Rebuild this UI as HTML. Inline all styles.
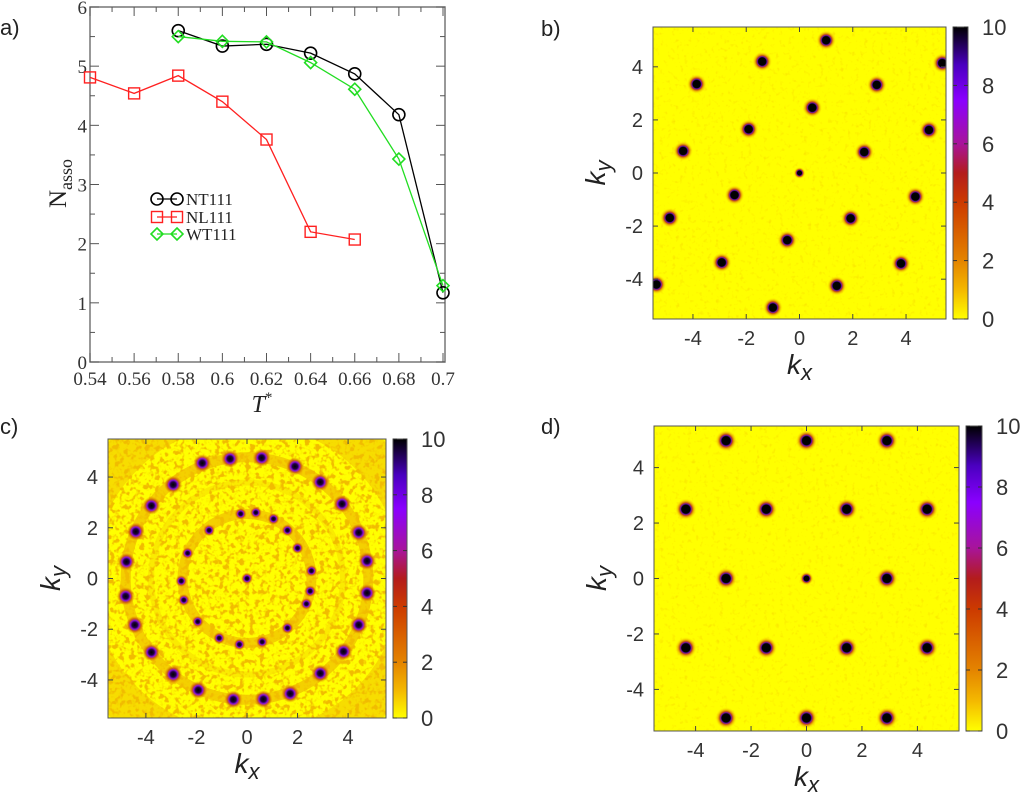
<!DOCTYPE html>
<html><head><meta charset="utf-8">
<style>
html,body{margin:0;padding:0;background:#fff;}
svg{display:block;font-family:"Liberation Sans",sans-serif;}
.ser{font-family:"Liberation Serif",serif;}
</style></head>
<body>
<svg id="fig" width="1024" height="793" viewBox="0 0 1024 793" xmlns="http://www.w3.org/2000/svg">
<defs>
<linearGradient id="cbar" x1="0" y1="1" x2="0" y2="0">
<stop offset="0" stop-color="#ffff00"/>
<stop offset="0.1" stop-color="#f4b800"/>
<stop offset="0.2" stop-color="#e48400"/>
<stop offset="0.4" stop-color="#cc3a00"/>
<stop offset="0.5" stop-color="#b31c1c"/>
<stop offset="0.6" stop-color="#a8149a"/>
<stop offset="0.75" stop-color="#8a00ff"/>
<stop offset="0.87" stop-color="#4a00c0"/>
<stop offset="1" stop-color="#000000"/>
</linearGradient>
<radialGradient id="spot">
<stop offset="0" stop-color="#000"/>
<stop offset="0.38" stop-color="#000"/>
<stop offset="0.48" stop-color="#6a10b0"/>
<stop offset="0.58" stop-color="#b02020" stop-opacity="0.8"/>
<stop offset="0.75" stop-color="#e08000" stop-opacity="0.45"/>
<stop offset="1" stop-color="#ffff00" stop-opacity="0"/>
</radialGradient>
<radialGradient id="spotc">
<stop offset="0" stop-color="#000"/>
<stop offset="0.3" stop-color="#200040"/>
<stop offset="0.5" stop-color="#8a10e0"/>
<stop offset="0.7" stop-color="#c04010" stop-opacity="0.7"/>
<stop offset="1" stop-color="#e08000" stop-opacity="0"/>
</radialGradient>
<filter id="speck" x="0" y="0" width="100%" height="100%">
<feTurbulence type="fractalNoise" baseFrequency="0.2" numOctaves="2" seed="4" result="n"/>
<feColorMatrix in="n" type="matrix" values="0 0 0 0 0.88  0 0 0 0 0.5  0 0 0 0 0  0 0 0 -6 3.0" result="c"/>
<feComposite in="c" in2="SourceGraphic" operator="in"/>
</filter>
<filter id="speckLight" x="0" y="0" width="100%" height="100%">
<feTurbulence type="fractalNoise" baseFrequency="0.25" numOctaves="2" seed="9" result="n"/>
<feColorMatrix in="n" type="matrix" values="0 0 0 0 0.95  0 0 0 0 0.8  0 0 0 0 0  0 0 0 -3 1.3" result="c"/>
<feComposite in="c" in2="SourceGraphic" operator="in"/>
</filter>
</defs>
<g id="layer"></g>
</svg>
<script>
// ---------- Panel a data ----------
const tValues = [0.54,0.56,0.58,0.60,0.62,0.64,0.66,0.68,0.70];
const ntT = [0.58,0.60,0.62,0.64,0.66,0.68,0.70];
const ntN = [5.60,5.34,5.37,5.22,4.87,4.18,1.17];
const nlT = [0.54,0.56,0.58,0.60,0.62,0.64,0.66];
const nlN = [4.81,4.54,4.84,4.40,3.76,2.20,2.07];
const wtT = [0.58,0.60,0.62,0.64,0.66,0.68,0.70];
const wtN = [5.50,5.42,5.41,5.06,4.61,3.43,1.29];
const xTickLabels = ["0.54","0.56","0.58","0.6","0.62","0.64","0.66","0.68","0.7"];
const yTickValues = [0,1,2,3,4,5,6];
// ---------- Heatmap data (peak positions in k units) ----------
const kTicks = [-4,-2,0,2,4];
const cbTicks = [0,2,4,6,8,10];
const bPeakX = [1.0,-1.4,5.36,-3.86,2.9,0.48,-1.91,4.86,-4.37,2.43,0,-2.44,4.35,-4.87,1.92,-0.46,-2.92,3.81,-5.37,1.40,-1.0];
const bPeakY = [5.0,4.2,4.14,3.35,3.32,2.46,1.65,1.62,0.83,0.79,0,-0.83,-0.89,-1.69,-1.71,-2.53,-3.37,-3.41,-4.2,-4.25,-5.07];
const dPeakX = [-2.9,0,2.9,-4.35,-1.45,1.45,4.35,-2.9,0,2.9,-4.35,-1.45,1.45,4.35,-2.9,0,2.9];
const dPeakY = [4.97,4.97,4.97,2.5,2.5,2.5,2.5,0,0,0,-2.5,-2.5,-2.5,-2.5,-5.03,-5.03,-5.03];
const cOuterX = [-1.77,-0.67,0.58,1.9,2.9,3.76,4.42,4.75,4.75,4.42,3.82,2.9,1.71,0.65,-0.54,-1.93,-2.92,-3.78,-4.44,-4.8,-4.77,-4.4,-3.78,-2.92];
const cOuterY = [4.55,4.72,4.76,4.42,3.8,2.94,1.81,0.69,-0.57,-1.83,-2.88,-3.74,-4.54,-4.76,-4.77,-4.4,-3.78,-2.91,-1.83,-0.7,0.66,1.85,2.87,3.7];
const cInnerX = [-0.25,0.35,1.05,1.6,2.0,2.55,2.5,2.35,1.6,0.6,-0.3,-1.1,-1.95,-2.5,-2.6,-2.35,-1.5,0];
const cInnerY = [2.55,2.6,2.35,1.9,1.2,0.3,-0.5,-1.0,-1.95,-2.5,-2.6,-2.35,-1.7,-0.85,-0.1,1.0,1.9,0];
const cRings = [2.55,3.8,4.8,6.9];

const NS="http://www.w3.org/2000/svg";
const root=document.getElementById('layer');
function mk(tag,attrs,parent){const e=document.createElementNS(NS,tag);for(const k in attrs)e.setAttribute(k,attrs[k]);(parent||root).appendChild(e);return e;}
function txt(s,attrs,parent){const e=mk('text',attrs,parent);e.textContent=s;return e;}

// ---------- Panel a ----------
(function(){
  const g=mk('g',{});
  
  
  const X0=90,X1=443,Y0=362,Y1=7;
  const sx=t=>X0+(t-0.54)/(0.70-0.54)*(X1-X0);
  const sy=v=>Y0-v/6*(Y0-Y1);
  const fr=mk('rect',{x:X0,y:Y1,width:X1-X0+2,height:Y0-Y1,fill:'none',stroke:'#777','stroke-width':1.5},g);
  
  
  for(let i=0;i<=16;i++){const t=0.54+i*0.01,x=sx(t),L=i%2===0?9:5;
    mk('line',{x1:x,y1:Y0,x2:x,y2:Y0-L,stroke:'#555','stroke-width':1},g);
    mk('line',{x1:x,y1:Y1,x2:x,y2:Y1+L,stroke:'#555','stroke-width':1},g);}
  for(let i=0;i<=12;i++){const v=i*0.5,y=sy(v),L=i%2===0?9:5;
    mk('line',{x1:X0,y1:y,x2:X0+L,y2:y,stroke:'#555','stroke-width':1},g);
    mk('line',{x1:X1+2,y1:y,x2:X1+2-L,y2:y,stroke:'#555','stroke-width':1},g);}
  tValues.forEach((t,i)=>{const e=txt(xTickLabels[i],{x:sx(t),y:Y0+23,'text-anchor':'middle','font-size':19,class:'ser',fill:'#333'},g);
    });
  yTickValues.forEach(v=>{const e=txt(String(v),{x:X0-3,y:sy(v)+7,'text-anchor':'end','font-size':19,class:'ser',fill:'#333'},g);
    });
  const xt=txt('',{x:262,y:412,'text-anchor':'middle','font-size':24,class:'ser',fill:'#222','font-style':'italic'},g);
  xt.innerHTML='T<tspan dy="-10" font-size="15" font-style="normal">*</tspan>';
  
  const yt=txt('',{x:0,y:0,transform:'translate(66,208) rotate(-90)','font-size':25,class:'ser',fill:'#222'},g);
  yt.innerHTML='N<tspan dy="6" font-size="18">asso</tspan>';
  
  function marker(kind,x,y,col,p){
    if(kind==='c')return mk('circle',{cx:x,cy:y,r:6,fill:'none',stroke:col,'stroke-width':1.6},p);
    if(kind==='s')return mk('rect',{x:x-5.5,y:y-5.5,width:11,height:11,fill:'none',stroke:col,'stroke-width':1.4},p);
    return mk('polygon',{points:`${x},${y-6} ${x+6},${y} ${x},${y+6} ${x-6},${y}`,fill:'none',stroke:col,'stroke-width':1.6},p);
  }
  function series(T,N,col,kind,name){
    const sg=mk('g',{},g);
    
    const pl=mk('polyline',{points:T.map((t,i)=>sx(t)+','+sy(N[i])).join(' '),fill:'none',stroke:col,'stroke-width':1.3},sg);
    
    T.forEach((t,i)=>{const m=marker(kind,sx(t),sy(N[i]),col,sg);
      });
  }
  series(nlT,nlN,'#ff2020','s','series-nl111');
  series(ntT,ntN,'#000000','c','series-nt111');
  series(wtT,wtN,'#22dd22','d','series-wt111');
  const lg=mk('g',{},g);
  
  [['NT111','#000','c',199],['NL111','#ff2020','s',217],['WT111','#22dd22','d',234]].forEach(r=>{
    const eg=mk('g',{},lg);
    
    mk('line',{x1:157,y1:r[3],x2:177,y2:r[3],stroke:r[1],'stroke-width':1.3},eg);
    marker(r[2],157,r[3],r[1],eg);marker(r[2],177,r[3],r[1],eg);
    txt(r[0],{x:186,y:r[3]+6,'font-size':17,class:'ser',fill:'#222'},eg);
  });
  const pl=txt('a)',{x:0,y:35,'font-size':22,fill:'#222'},g);
  
})();

// ---------- Heatmap panels ----------
function heatPanel(o){
  const g=mk('g',{});
  
  
  const unit=(o.x1-o.x0)/11, cx=(o.x0+o.x1)/2, cy=(o.y0+o.y1)/2, uy=(o.y1-o.y0)/11;
  const sx=k=>cx+k*unit, sy=k=>cy-k*uy;
  const clipId='clip'+o.name;
  const cp=mk('clipPath',{id:clipId},g);
  mk('rect',{x:o.x0,y:o.y0,width:o.x1-o.x0,height:o.y1-o.y0},cp);
  const area=mk('g',{'clip-path':`url(#${clipId})`},g);
  
  mk('rect',{x:o.x0,y:o.y0,width:o.x1-o.x0,height:o.y1-o.y0,fill:'#ffff00'},area);
  if(o.speck) mk('rect',{x:o.x0,y:o.y0,width:o.x1-o.x0,height:o.y1-o.y0,fill:'#fff',filter:'url(#speckLight)'},area);
  if(o.rings){
    o.rings.forEach((r,i)=>{
      const c=mk('circle',{cx:sx(0),cy:sy(0),r:r*unit,fill:'none',stroke:'#e07800','stroke-width':i===3?40:(i===1?6:10),'stroke-opacity':i===1?0.15:(i===3?0.25:0.35)},area);
      
    });
    mk('rect',{x:o.x0,y:o.y0,width:o.x1-o.x0,height:o.y1-o.y0,fill:'#fff',filter:'url(#speck)'},area);
  }
  o.peaks.forEach(p=>{
    const c=mk('circle',{cx:sx(p[0]),cy:sy(p[1]),r:p[2],fill:`url(#${p[3]||'spot'})`},area);
    
  });
  const fr=mk('rect',{x:o.x0,y:o.y0,width:o.x1-o.x0,height:o.y1-o.y0,fill:'none',stroke:'#555','stroke-width':1},g);
  
  kTicks.forEach(k=>{
    mk('line',{x1:sx(k),y1:o.y1,x2:sx(k),y2:o.y1-5,stroke:'#444'},g);
    mk('line',{x1:sx(k),y1:o.y0,x2:sx(k),y2:o.y0+5,stroke:'#444'},g);
    mk('line',{x1:o.x0,y1:sy(k),x2:o.x0+5,y2:sy(k),stroke:'#444'},g);
    mk('line',{x1:o.x1,y1:sy(k),x2:o.x1-5,y2:sy(k),stroke:'#444'},g);
    const a=txt(String(k),{x:sx(k),y:o.y1+26,'text-anchor':'middle','font-size':20,fill:'#333'},g);
    
    const b=txt(String(k),{x:o.x0-10,y:sy(k)+7,'text-anchor':'end','font-size':20,fill:'#333'},g);
    
  });
  const xt=txt('',{x:sx(0),y:o.y1+55,'text-anchor':'middle','font-size':28,fill:'#222','font-style':'italic'},g);
  xt.innerHTML='k<tspan dy="6" font-size="22">x</tspan>';
  
  const yt=txt('',{x:0,y:0,transform:`translate(${o.x0-48},${sy(0)}) rotate(-90)`,'text-anchor':'middle','font-size':28,fill:'#222','font-style':'italic'},g);
  yt.innerHTML='k<tspan dy="6" font-size="22">y</tspan>';
  
  const cb=mk('g',{},g);
  
  mk('rect',{x:o.cbx,y:o.y0,width:o.cbw,height:o.y1-o.y0,fill:'url(#cbar)',stroke:'#555','stroke-width':1},cb);
  cbTicks.forEach(v=>{const y=o.y1-v/10*(o.y1-o.y0);
    mk('line',{x1:o.cbx+o.cbw-4,y1:y,x2:o.cbx+o.cbw,y2:y,stroke:'#333'},cb);
    mk('line',{x1:o.cbx,y1:y,x2:o.cbx+4,y2:y,stroke:'#333'},cb);
    const t=txt(String(v),{x:o.cbx+o.cbw+14,y:y+8,'font-size':22,fill:'#333'},cb);
    });
  const pl=txt(o.label,{x:o.lx,y:o.ly,'font-size':22,fill:'#222'},g);
  
}

const bPeaks=bPeakX.map((x,i)=>[x,bPeakY[i],i===10?6:10]);
heatPanel({name:'panel-b-heatmap',x0:653,x1:946,y0:27,y1:319,cbx:953,cbw:15,peaks:bPeaks,speck:true,label:'b)',lx:541,ly:36});
const cPeaks=cOuterX.map((x,i)=>[x,cOuterY[i],9,'spotc']).concat(cInnerX.map((x,i)=>[x,cInnerY[i],6,'spotc']));
heatPanel({name:'panel-c-heatmap',x0:108,x1:386,y0:439,y1:718,cbx:393,cbw:14,peaks:cPeaks,rings:cRings,speck:true,label:'c)',lx:0,ly:434});
const dPeaks=dPeakX.map((x,i)=>[x,dPeakY[i],i===8?7:11]);
heatPanel({name:'panel-d-heatmap',x0:654,x1:959,y0:426,y1:731,cbx:966,cbw:16,peaks:dPeaks,speck:true,label:'d)',lx:541,ly:434});
</script>
</body></html>
